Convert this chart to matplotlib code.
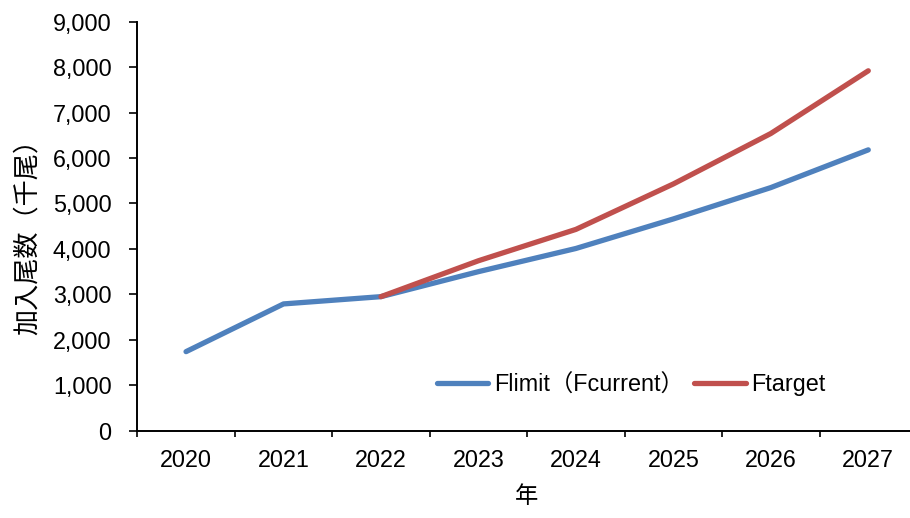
import matplotlib
matplotlib.use('Agg')
import matplotlib.pyplot as plt
from matplotlib.ticker import FuncFormatter, FixedLocator
import numpy as np

plt.rcParams['font.family'] = ['Liberation Sans', 'Noto Sans CJK JP']

years = ['2020', '2021', '2022', '2023', '2024', '2025', '2026', '2027']
flimit = [1740, 2790, 2950, 3500, 4010, 4660, 5350, 6180]
ftarget_years = ['2022', '2023', '2024', '2025', '2026', '2027']
ftarget = [2950, 3740, 4430, 5430, 6540, 7920]

blue = '#4F81BD'
red = '#C0504D'
fs = 16.8

fig = plt.figure(figsize=(9.1, 5.18), dpi=100)
ax = fig.add_axes([0.1509, 0.1685, 0.8568, 0.7896])

x_all = np.arange(len(years))
x_tgt = np.array([years.index(y) for y in ftarget_years])

ax.plot(x_all, flimit, color=blue, lw=3.8, solid_capstyle='round',
        solid_joinstyle='round', label='Flimit（Fcurrent）')
ax.plot(x_tgt, ftarget, color=red, lw=3.8, solid_capstyle='round',
        solid_joinstyle='round', label='Ftarget')

ax.set_xlim(-0.5, len(years) - 0.5)
ax.set_ylim(0, 9000)
ax.set_yticks(np.arange(0, 9001, 1000))
ax.yaxis.set_major_formatter(FuncFormatter(lambda v, p: f'{int(v):,}'))

# category labels in the middle, tick marks on the boundaries
ax.xaxis.set_major_locator(FixedLocator(np.arange(-0.5, len(years), 1.0)))
ax.xaxis.set_minor_locator(FixedLocator(x_all))
ax.set_xticklabels([''] * (len(years) + 1))
ax.set_xticklabels(years, minor=True)
ax.tick_params(axis='x', which='major', direction='out', length=4.5, width=1.2, color='black')
ax.tick_params(axis='x', which='minor', length=0, pad=13, labelsize=fs)
ax.tick_params(axis='y', direction='out', length=5.5, width=1.2, pad=13, labelsize=fs)

for side in ['top', 'right']:
    ax.spines[side].set_visible(False)
for side in ['left', 'bottom']:
    ax.spines[side].set_linewidth(1.4)
    ax.spines[side].set_color('black')

ax.set_ylabel('加入尾数（千尾）', fontsize=18.8, family=['Noto Sans CJK JP'])
ax.yaxis.set_label_coords(-0.124, 0.49)
fig.text(526.7 / 910, 1 - 496.5 / 518, '年', fontsize=fs, family=['Noto Sans CJK JP'],
         ha='center', va='center')

ax.legend(loc='center left', bbox_to_anchor=(0.384, 0.112), ncol=2, frameon=False,
          fontsize=fs, handlelength=2.2, handletextpad=0.25, columnspacing=0.45,
          borderpad=0, borderaxespad=0)

fig.savefig('out.png', dpi=100)
